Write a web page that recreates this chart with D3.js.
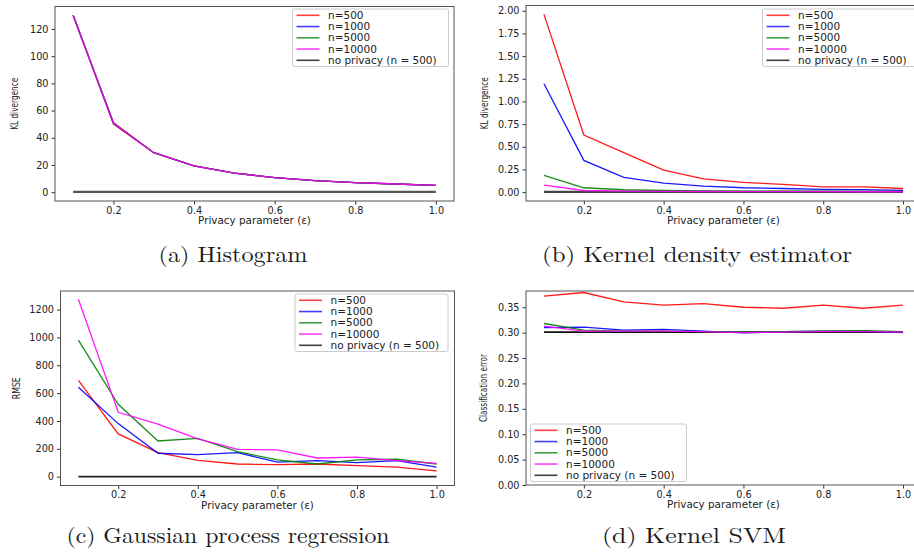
<!DOCTYPE html>
<html>
<head>
<meta charset="utf-8">
<script src="https://cdn.jsdelivr.net/npm/d3@7"></script>
<style>
  body { margin: 0; background: #fff; }
  svg { display: block; }
  .tick text { font-family: "DejaVu Sans", sans-serif; font-size: 9.7px; fill: #222; }
  .tick line { stroke: #333; }
  .domain { display: none; }
  .xlabel { font-family: "DejaVu Sans", sans-serif; font-size: 10.4px; fill: #222; }
  .ylabel { font-family: "Liberation Sans Narrow", "DejaVu Sans Condensed", sans-serif; font-size: 11px; fill: #222; }
  .legend text { font-family: "DejaVu Sans", sans-serif; font-size: 10.5px; fill: #222; }
  .caption { font-family: "Latin Modern Roman", "Liberation Serif", serif; font-size: 21.5px; fill: #1a1a1a; }
</style>
</head>
<body>
<svg id="chart" width="914" height="552"></svg>
<script>
// Privacy parameter values (x axis, shared)
const eps = [0.1, 0.2, 0.3, 0.4, 0.5, 0.6, 0.7, 0.8, 0.9, 1.0];
const seriesNames = ["n=500", "n=1000", "n=5000", "n=10000", "no privacy (n = 500)"];

// (a) Histogram - KL divergence
const histN500   = [130, 50.0, 29, 19.3, 14, 10.7, 8.5, 7, 6, 5];
const histN1000  = [130, 50.8, 29, 19.3, 14, 10.7, 8.5, 7, 6, 5];
const histN5000  = [130, 51.0, 29, 19.3, 14, 10.7, 8.5, 7, 6, 5];
const histN10000 = [130, 51.0, 29, 19.3, 14, 10.7, 8.5, 7, 6, 5];
const histNoPriv = [0.2, 0.2, 0.2, 0.2, 0.2, 0.2, 0.2, 0.2, 0.2, 0.2];

// (b) Kernel density estimator - KL divergence
const kdeN500   = [1.96, 0.63, 0.435, 0.243, 0.145, 0.107, 0.085, 0.058, 0.057, 0.04];
const kdeN1000  = [1.195, 0.35, 0.162, 0.099, 0.066, 0.048, 0.04, 0.03, 0.027, 0.02];
const kdeN5000  = [0.184, 0.048, 0.026, 0.018, 0.014, 0.012, 0.011, 0.01, 0.009, 0.008];
const kdeN10000 = [0.077, 0.018, 0.012, 0.009, 0.007, 0.006, 0.005, 0.005, 0.004, 0.004];
const kdeNoPriv = [0.003, 0.003, 0.003, 0.003, 0.003, 0.003, 0.003, 0.003, 0.003, 0.003];

// (c) Gaussian process regression - RMSE
const gprN500   = [692, 307, 172, 117, 91, 86, 91, 79, 69, 41];
const gprN1000  = [642, 381, 168, 158, 172, 105, 115, 101, 115, 69];
const gprN5000  = [980, 520, 256, 275, 180, 120, 91, 120, 125, 91];
const gprN10000 = [1274, 462, 378, 271, 196, 192, 134, 141, 115, 96];
const gprNoPriv = [0, 0, 0, 0, 0, 0, 0, 0, 0, 0];

// (d) Kernel SVM - classification error
const svmN500   = [0.372, 0.379, 0.3605, 0.354, 0.357, 0.350, 0.348, 0.354, 0.348, 0.354];
const svmN1000  = [0.310, 0.311, 0.305, 0.3065, 0.303, 0.2995, 0.302, 0.303, 0.303, 0.300];
const svmN5000  = [0.318, 0.305, 0.303, 0.303, 0.302, 0.301, 0.302, 0.303, 0.304, 0.302];
const svmN10000 = [0.313, 0.303, 0.303, 0.303, 0.302, 0.300, 0.301, 0.302, 0.302, 0.301];
const svmNoPriv = [0.301, 0.301, 0.301, 0.301, 0.301, 0.301, 0.301, 0.301, 0.301, 0.301];

const xTicks = [0.2, 0.4, 0.6, 0.8, 1.0];
const histYTicks = [0, 20, 40, 60, 80, 100, 120];
const kdeYTicks = [0, 0.25, 0.5, 0.75, 1.0, 1.25, 1.5, 1.75, 2.0];
const gprYTicks = [0, 200, 400, 600, 800, 1000, 1200];
const svmYTicks = [0, 0.05, 0.1, 0.15, 0.2, 0.25, 0.3, 0.35];

const colors = ["#ff0000", "#0000ff", "#008000", "#ff00ff", "#000000"];

const svg = d3.select("#chart");

const panels = [
  {
    series: [histN500, histN1000, histN5000, histN10000, histNoPriv],
    yDomain: [-6.5, 136.5], yTicks: histYTicks, yFmt: d3.format("d"),
    box: { left: 55, right: 454, top: 6.5, bottom: 201 },
    ylabel: "KL divergence", ylabelX: 14, ylabelLen: 52,
    legend: { x: 292.5, y: 9, w: 156 },
    caption: "(a) Histogram", capX: 233, capY: 262, capLen: 149,
    noPrivStyle: { color: "#555", width: 2.2 }
  },
  {
    series: [kdeN500, kdeN1000, kdeN5000, kdeN10000, kdeNoPriv],
    yDomain: [-0.098, 2.058], yTicks: kdeYTicks, yFmt: d3.format(".2f"),
    box: { left: 526, right: 921, top: 5.5, bottom: 201 },
    ylabel: "KL divergence", ylabelX: 484, ylabelLen: 52,
    legend: { x: 762.5, y: 9, w: 156 },
    caption: "(b) Kernel density estimator", capX: 697, capY: 262, capLen: 310,
    noPrivStyle: { color: "#444", width: 2.2 }
  },
  {
    series: [gprN500, gprN1000, gprN5000, gprN10000, gprNoPriv],
    yDomain: [-63.5, 1333.5], yTicks: gprYTicks, yFmt: d3.format("d"),
    box: { left: 60.5, right: 454.5, top: 291, bottom: 485.5 },
    ylabel: "RMSE", ylabelX: 16, ylabelLen: 22,
    legend: { x: 295, y: 294, w: 153 },
    caption: "(c) Gaussian process regression", capX: 228, capY: 543, capLen: 323,
    noPrivStyle: { color: "#222", width: 1.6 }
  },
  {
    series: [svmN500, svmN1000, svmN5000, svmN10000, svmNoPriv],
    yDomain: [0, 0.382], yTicks: svmYTicks, yFmt: d3.format(".2f"),
    box: { left: 526, right: 921, top: 291, bottom: 485 },
    ylabel: "Classification error", ylabelX: 483, ylabelLen: 68,
    legend: { x: 530.5, y: 424, w: 156 },
    caption: "(d) Kernel SVM", capX: 694, capY: 543, capLen: 184,
    noPrivStyle: { color: "#111", width: 1.6 }
  }
];

panels.forEach(p => drawPanel(p));

function drawPanel(p) {
  const b = p.box;
  const x = d3.scaleLinear().domain([0.055, 1.045]).range([b.left, b.right]);
  const y = d3.scaleLinear().domain(p.yDomain).range([b.bottom, b.top]);
  const g = svg.append("g");

  // axes
  g.append("g")
    .attr("transform", `translate(0,${b.bottom})`)
    .call(d3.axisBottom(x).tickValues(xTicks).tickFormat(d3.format(".1f")).tickSize(3.5).tickPadding(2.2));
  g.append("g")
    .attr("transform", `translate(${b.left},0)`)
    .call(d3.axisLeft(y).tickValues(p.yTicks).tickFormat(p.yFmt).tickSize(3.5).tickPadding(3));

  // lines, clipped to the plotting box
  const clipId = "clip" + Math.round(b.left) + Math.round(b.top);
  g.append("clipPath").attr("id", clipId)
    .append("rect").attr("x", b.left).attr("y", b.top)
    .attr("width", b.right - b.left).attr("height", b.bottom - b.top);

  const line = d3.line().x((d, i) => x(eps[i])).y(d => y(d));
  const order = [4, 0, 1, 2, 3];
  order.forEach(k => {
    const isNoPriv = k === 4;
    g.append("path")
      .datum(p.series[k])
      .attr("clip-path", `url(#${clipId})`)
      .attr("fill", "none")
      .attr("stroke", isNoPriv ? p.noPrivStyle.color : colors[k])
      .attr("stroke-width", isNoPriv ? p.noPrivStyle.width : 1.3)
      .attr("stroke-opacity", isNoPriv ? 1 : 0.9)
      .attr("d", line);
  });

  // frame
  g.append("rect")
    .attr("x", b.left).attr("y", b.top)
    .attr("width", b.right - b.left).attr("height", b.bottom - b.top)
    .attr("fill", "none").attr("stroke", "#555").attr("stroke-width", 1);

  // axis labels
  g.append("text").attr("class", "xlabel")
    .attr("x", (b.left + b.right) / 2)
    .attr("y", b.bottom + 23)
    .attr("text-anchor", "middle")
    .text("Privacy parameter (\u03b5)");
  g.append("text").attr("class", "ylabel")
    .attr("transform", `translate(${p.ylabelX},${(b.top + b.bottom) / 2}) rotate(-90)`)
    .attr("text-anchor", "middle")
    .attr("dy", "0.35em")
    .attr("textLength", p.ylabelLen)
    .attr("lengthAdjust", "spacingAndGlyphs")
    .text(p.ylabel);

  // legend
  const lg = g.append("g").attr("class", "legend")
    .attr("transform", `translate(${p.legend.x},${p.legend.y})`);
  lg.append("rect")
    .attr("width", p.legend.w).attr("height", 57.5)
    .attr("rx", 2)
    .attr("fill", "#fff").attr("fill-opacity", 0.85)
    .attr("stroke", "#ccc").attr("stroke-width", 1);
  seriesNames.forEach((name, i) => {
    const yy = 6.3 + i * 11.25;
    lg.append("line")
      .attr("x1", 4).attr("x2", 27).attr("y1", yy).attr("y2", yy)
      .attr("stroke", colors[i]).attr("stroke-opacity", 0.75)
      .attr("stroke-width", 1.6);
    lg.append("text")
      .attr("x", 35.5).attr("y", yy).attr("dy", "0.35em")
      .text(name);
  });

  // caption
  svg.append("text").attr("class", "caption")
    .attr("x", p.capX).attr("y", p.capY)
    .attr("text-anchor", "middle")
    .attr("textLength", p.capLen)
    .attr("lengthAdjust", "spacingAndGlyphs")
    .text(p.caption);
}
</script>
</body>
</html>
